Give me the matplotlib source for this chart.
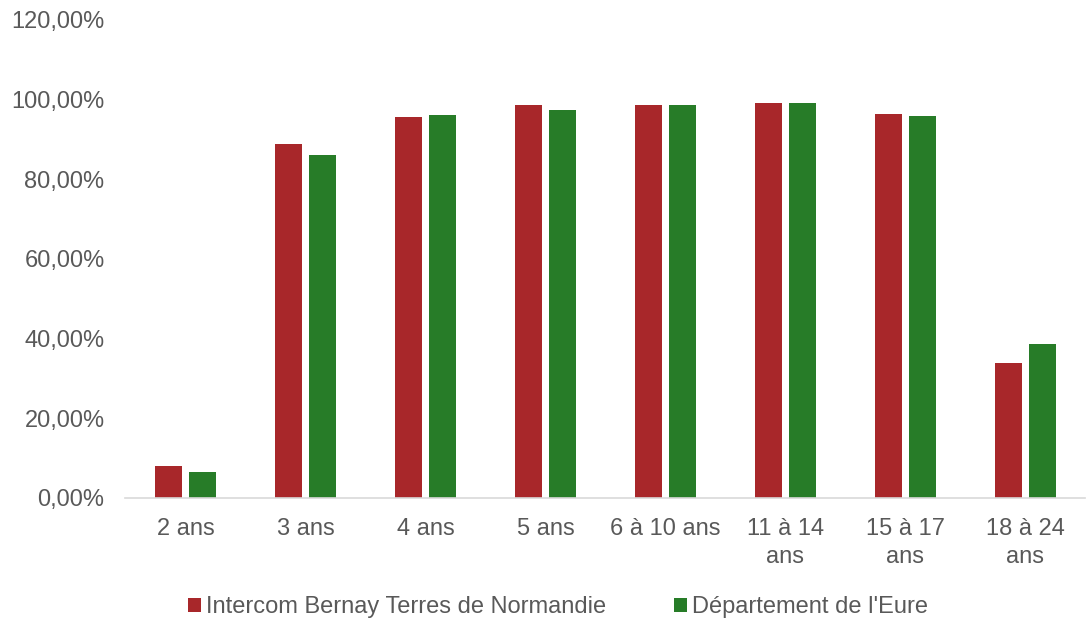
import matplotlib.pyplot as plt
import numpy as np
from matplotlib.ticker import FuncFormatter

plt.rcParams['font.family'] = ['Liberation Sans', 'DejaVu Sans']

categories = ['2 ans', '3 ans', '4 ans', '5 ans', '6 à 10 ans',
              '11 à 14\nans', '15 à 17\nans', '18 à 24\nans']
intercom = [8.0, 88.9, 95.6, 98.7, 98.6, 99.1, 96.3, 33.9]
eure = [6.5, 86.1, 96.2, 97.3, 98.7, 99.2, 96.0, 38.7]
series_names = ['Intercom Bernay Terres de Normandie', "Département de l'Eure"]

red = '#A8272A'
green = '#277C28'
text_col = '#595959'

fig = plt.figure(figsize=(10.88, 6.19), dpi=100)
ax = fig.add_axes([0.1153, 0.1955, 0.8824, 0.7722])

x = np.arange(len(categories))
w = 0.225
gap = 0.058
ax.bar(x - (w + gap) / 2, intercom, w, color=red, label=series_names[0])
ax.bar(x + (w + gap) / 2, eure, w, color=green, label=series_names[1])

ax.set_xlim(-0.5, len(categories) - 0.5)
ax.set_ylim(0, 120)
ax.set_yticks(range(0, 121, 20))
ax.yaxis.set_major_formatter(FuncFormatter(lambda v, p: f'{v:.2f}'.replace('.', ',') + '%'))
ax.set_xticks(x)
ax.set_xticklabels(categories, linespacing=1.32)

for s in ['top', 'right', 'left']:
    ax.spines[s].set_visible(False)
ax.spines['bottom'].set_color('#d9d9d9')
ax.spines['bottom'].set_linewidth(1.2)
ax.tick_params(axis='both', length=0, labelsize=17, colors=text_col)
ax.tick_params(axis='y', pad=15)
ax.tick_params(axis='x', pad=14.5)

leg = fig.legend(loc='center', bbox_to_anchor=(0.513, 0.019), ncol=2, frameon=False,
                 fontsize=17, handlelength=0.55, handleheight=0.55,
                 handletextpad=0.2, columnspacing=2.9)
for t in leg.get_texts():
    t.set_color(text_col)

fig.savefig('out.png', dpi=100)
